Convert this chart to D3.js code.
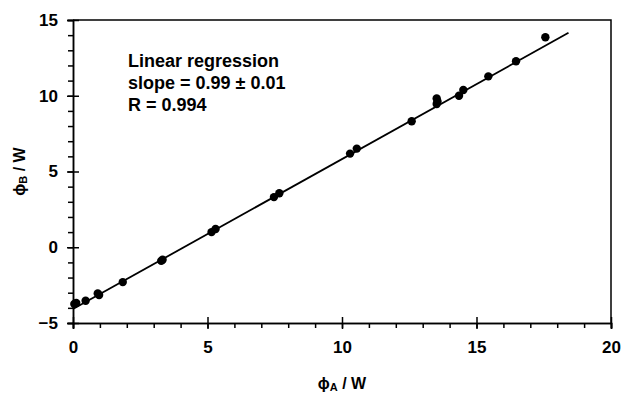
<!DOCTYPE html>
<html>
<head>
<meta charset="utf-8">
<script src="https://cdn.jsdelivr.net/npm/d3@7"></script>
<style>
  body { margin: 0; background: #fff; }
  svg text { font-family: "Liberation Sans", Arial, sans-serif; font-weight: bold; fill: #000; }
  .axis path, .axis line { stroke: #000; stroke-width: 1.5; }
</style>
</head>
<body>
<div id="chart"></div>
<script>
// measured powers, sensor A vs sensor B (W)
const phiA = [0.05, 0.12, 0.47, 0.92, 0.97, 1.85, 3.28, 3.33, 5.15, 5.3, 7.47, 7.67, 10.3, 10.55, 12.59, 13.52, 13.52, 13.55, 14.35, 14.51, 15.44, 16.47, 17.56];
const phiB = [-3.75, -3.68, -3.53, -3.05, -3.15, -2.3, -0.9, -0.82, 1.0, 1.2, 3.31, 3.56, 6.18, 6.51, 8.32, 9.82, 9.45, 9.62, 10.0, 10.38, 11.28, 12.28, 13.86];

// regression line
const slope = 0.99;
const intercept = -4.08;
const fitRange = [0, 18.42];

const xTicks = [0, 5, 10, 15, 20];
const yTicks = [-5, 0, 5, 10, 15];
const xMinor = d3.range(0, 21, 1);
const yMinor = d3.range(-5, 16, 1);

const notes = ['Linear regression', 'slope = 0.99 \u00b1 0.01', 'R = 0.994'];

const width = 624, height = 393;
const m = { left: 73, right: 13, top: 20, bottom: 70 };

const svg = d3.select('#chart')
  .append('svg')
  .attr('width', width)
  .attr('height', height);

const x = d3.scaleLinear().domain([0, 20]).range([m.left, width - m.right]);
const y = d3.scaleLinear().domain([-5, 15]).range([height - m.bottom, m.top]);

// frame (top + right)
svg.append('path')
  .attr('d', `M${x(0)},${y(15)}H${x(20)}V${y(-5)}`)
  .attr('fill', 'none')
  .attr('stroke', '#000')
  .attr('stroke-width', 1.5);

// minor ticks, outward
svg.append('g').attr('class', 'axis')
  .attr('transform', `translate(0,${y(-5)})`)
  .call(d3.axisBottom(x).tickValues(xMinor).tickSize(5).tickFormat(''));

svg.append('g').attr('class', 'axis')
  .attr('transform', `translate(${x(0)},0)`)
  .call(d3.axisLeft(y).tickValues(yMinor).tickSize(5).tickFormat(''));

// major ticks cross the axis, with labels
const xAxis = svg.append('g').attr('class', 'axis')
  .attr('transform', `translate(0,${y(-5)})`)
  .call(d3.axisBottom(x).tickValues(xTicks).tickSize(6).tickPadding(12));
xAxis.selectAll('.tick line').attr('y1', -6);
xAxis.selectAll('text').style('font-size', '17px');

const yAxis = svg.append('g').attr('class', 'axis')
  .attr('transform', `translate(${x(0)},0)`)
  .call(d3.axisLeft(y).tickValues(yTicks).tickSize(6).tickPadding(9));
yAxis.selectAll('.tick line').attr('x1', 6);
yAxis.selectAll('text').style('font-size', '17px');

// fit line
svg.append('line')
  .attr('x1', x(fitRange[0])).attr('y1', y(intercept + slope * fitRange[0]))
  .attr('x2', x(fitRange[1])).attr('y2', y(intercept + slope * fitRange[1]))
  .attr('stroke', '#000')
  .attr('stroke-width', 1.8);

// data points
svg.append('g')
  .selectAll('circle')
  .data(phiA.map((a, i) => [a, phiB[i]]))
  .join('circle')
  .attr('cx', d => x(d[0]))
  .attr('cy', d => y(d[1]))
  .attr('r', 4.2)
  .attr('fill', '#000');

// annotation
svg.append('g')
  .selectAll('text')
  .data(notes)
  .join('text')
  .attr('x', 128)
  .attr('y', (d, i) => 67 + i * 22)
  .style('font-size', '18px')
  .text(d => d);

// axis titles
const xt = svg.append('text')
  .attr('x', (x(0) + x(20)) / 2)
  .attr('y', 389)
  .attr('text-anchor', 'middle')
  .style('font-size', '16px');
xt.append('tspan').text('\u03d5');
xt.append('tspan').text('A').style('font-size', '11px').attr('dy', 2);
xt.append('tspan').text(' / W').attr('dy', -2);

const yt = svg.append('text')
  .attr('transform', `translate(25,${(y(-5) + y(15)) / 2}) rotate(-90)`)
  .attr('text-anchor', 'middle')
  .style('font-size', '16px');
yt.append('tspan').text('\u03d5');
yt.append('tspan').text('B').style('font-size', '11px').attr('dy', 2);
yt.append('tspan').text(' / W').attr('dy', -2);
</script>
</body>
</html>
